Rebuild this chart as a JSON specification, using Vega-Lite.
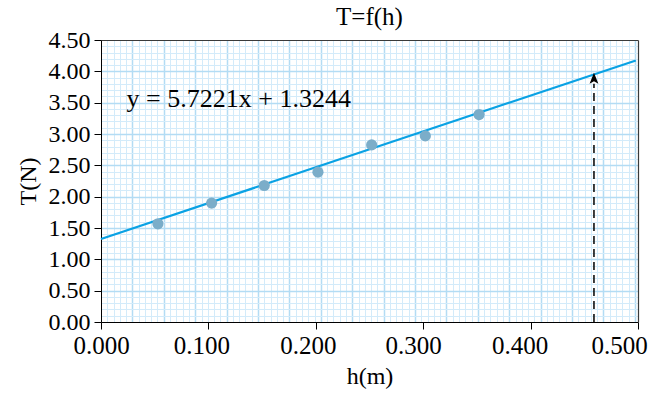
{
  "$schema": "https://vega.github.io/schema/vega-lite/v6.json",
  "autosize": {"type": "none"},
  "padding": {"left": 101, "top": 40, "right": 23, "bottom": 72},
  "width": 537,
  "height": 282,
  "background": "white",
  "config": {
    "font": "Liberation Serif",
    "view": {"stroke": null},
    "axis": {"labelColor": "black", "titleColor": "black", "domainColor": "black", "tickColor": "black", "labelFontWeight": "normal", "titleFontWeight": "normal"}
  },
  "title": {"text": "T=f(h)", "fontSize": 25, "fontWeight": "normal", "font": "Liberation Serif", "color": "black", "baseline": "alphabetic", "offset": -22, "frame": "group", "anchor": "middle"},
  "datasets": {
    "points": [
      {"h": 0.053, "T": 1.567},
      {"h": 0.103, "T": 1.897},
      {"h": 0.152, "T": 2.178},
      {"h": 0.202, "T": 2.391},
      {"h": 0.252, "T": 2.826},
      {"h": 0.302, "T": 2.970},
      {"h": 0.352, "T": 3.310}
    ],
    "trend": [
      {"h": 0.0, "T": 1.3244},
      {"h": 0.498, "T": 4.174}
    ],
    "arrow": [
      {"h": 0.459, "T": 0.0, "T2": 3.80}
    ],
    "arrowhead": [
      {"h": 0.459, "T": 3.89}
    ],
    "label": [
      {"h": 0.0238, "T": 3.437, "text": "y = 5.7221x + 1.3244"}
    ]
  },
  "layer": [
    {
      "data": {"name": "trend"},
      "mark": {"type": "line", "color": "#0aa2e4", "strokeWidth": 2.2},
      "encoding": {
        "x": {
          "field": "h", "type": "quantitative",
          "scale": {"domain": [0, 0.5], "nice": false, "zero": true},
          "axis": {
            "orient": "bottom", "title": null, "labels": false, "ticks": false, "domain": false,
            "values": [0.0058,0.0117,0.0175,0.0234,0.0292,0.0351,0.0409,0.0468,0.0526,0.0585,0.0643,0.0702,0.0760,0.0819,0.0877,0.0936,0.0994,0.1053,0.1111,0.1170,0.1228,0.1287,0.1345,0.1404,0.1462,0.1520,0.1579,0.1637,0.1696,0.1754,0.1813,0.1871,0.1930,0.1988,0.2047,0.2105,0.2164,0.2222,0.2281,0.2339,0.2398,0.2456,0.2515,0.2573,0.2632,0.2690,0.2749,0.2807,0.2866,0.2924,0.2982,0.3041,0.3099,0.3158,0.3216,0.3275,0.3333,0.3392,0.3450,0.3509,0.3567,0.3626,0.3684,0.3743,0.3801,0.3860,0.3918,0.3977,0.4035,0.4094,0.4152,0.4211,0.4269,0.4328,0.4386,0.4444,0.4503,0.4561,0.4620,0.4678,0.4737,0.4795,0.4854,0.4912,0.4971],
            "grid": true,
            "gridColor": {"condition": {"test": "abs(datum.value*171/5 - round(datum.value*171/5)) < 0.05", "value": "#b3dcf4"}, "value": "#d3ebfa"},
            "gridWidth": {"condition": {"test": "abs(datum.value*171/5 - round(datum.value*171/5)) < 0.05", "value": 1.5}, "value": 1}
          }
        },
        "y": {
          "field": "T", "type": "quantitative",
          "scale": {"domain": [0, 4.5], "nice": false, "zero": true},
          "axis": {
            "orient": "left",
            "title": "T(N)", "titleFontSize": 24, "titlePadding": 8,
            "values": [0,0.1,0.2,0.3,0.4,0.5,0.6,0.7,0.8,0.9,1,1.1,1.2,1.3,1.4,1.5,1.6,1.7,1.8,1.9,2,2.1,2.2,2.3,2.4,2.5,2.6,2.7,2.8,2.9,3,3.1,3.2,3.3,3.4,3.5,3.6,3.7,3.8,3.9,4,4.1,4.2,4.3,4.4,4.5],
            "labelExpr": "abs(datum.value*2 - round(datum.value*2)) < 0.01 ? format(datum.value, '.2f') : ''",
            "labelFontSize": 24, "labelPadding": 4, "labelOverlap": false, "labelFlush": false, "labelBound": false,
            "tickSize": 7,
            "tickOpacity": {"condition": {"test": "abs(datum.value*2 - round(datum.value*2)) < 0.01", "value": 1}, "value": 0},
            "grid": true,
            "gridColor": {"condition": {"test": "abs(datum.value*2 - round(datum.value*2)) < 0.01", "value": "#b3dcf4"}, "value": "#d3ebfa"},
            "gridWidth": {"condition": {"test": "abs(datum.value*2 - round(datum.value*2)) < 0.01", "value": 1.5}, "value": 1},
            "gridOpacity": {"condition": {"test": "datum.value > 4.45 || datum.value < 0.05", "value": 0}, "value": 1}
          }
        }
      }
    },
    {
      "data": {"name": "points"},
      "mark": {"type": "point", "filled": true, "shape": "circle", "size": 125, "color": "#7badc9", "opacity": 1},
      "encoding": {
        "x": {
          "field": "h", "type": "quantitative",
          "scale": {"domain": [0, 0.5], "nice": false, "zero": true},
          "axis": {
            "orient": "bottom", "title": "h(m)", "titleFontSize": 24, "titlePadding": 6,
            "values": [0, 0.1, 0.2, 0.3, 0.4, 0.5], "format": ".3f",
            "labelFontSize": 25, "labelPadding": 4, "labelFlush": false, "labelOverlap": false, "labelBound": false,
            "labelOffset": {"condition": [
              {"test": "datum.value > 0.45", "value": -19},
              {"test": "datum.value > 0.35", "value": -11},
              {"test": "datum.value > 0.25", "value": -10},
              {"test": "datum.value > 0.15", "value": -8},
              {"test": "datum.value > 0.05", "value": -7}
            ], "value": 0},
            "tickSize": 7, "grid": false, "domain": true
          }
        },
        "y": {"field": "T", "type": "quantitative", "axis": null}
      }
    },
    {
      "data": {"name": "arrow"},
      "mark": {"type": "rule", "color": "black", "strokeWidth": 1.5, "strokeDash": [8, 5]},
      "encoding": {
        "x": {"field": "h", "type": "quantitative",
          "axis": {"orient": "top", "title": null, "labels": false, "ticks": false, "grid": false, "domain": true, "domainColor": "#3a3a3a", "domainWidth": 1.2, "minExtent": 0, "maxExtent": 0, "offset": 0}},
        "y": {"field": "T", "type": "quantitative",
          "axis": {"orient": "right", "title": null, "labels": false, "ticks": false, "grid": false, "domain": true, "domainColor": "#3a3a3a", "domainWidth": 1.2, "minExtent": 0, "maxExtent": 0}},
        "y2": {"field": "T2"}
      }
    },
    {
      "data": {"name": "arrowhead"},
      "mark": {"type": "point", "filled": true, "shape": "M0,-1L-0.8,1L0,0.55L0.8,1Z", "size": 121, "color": "black", "opacity": 1},
      "encoding": {
        "x": {"field": "h", "type": "quantitative", "axis": null},
        "y": {"field": "T", "type": "quantitative", "axis": null}
      }
    },
    {
      "data": {"name": "label"},
      "mark": {"type": "text", "align": "left", "baseline": "alphabetic", "fontSize": 26, "font": "Liberation Serif", "color": "black"},
      "encoding": {
        "x": {"field": "h", "type": "quantitative", "axis": null},
        "y": {"field": "T", "type": "quantitative", "axis": null},
        "text": {"field": "text"}
      }
    }
  ],
  "resolve": {"axis": {"x": "independent", "y": "independent"}}
}
